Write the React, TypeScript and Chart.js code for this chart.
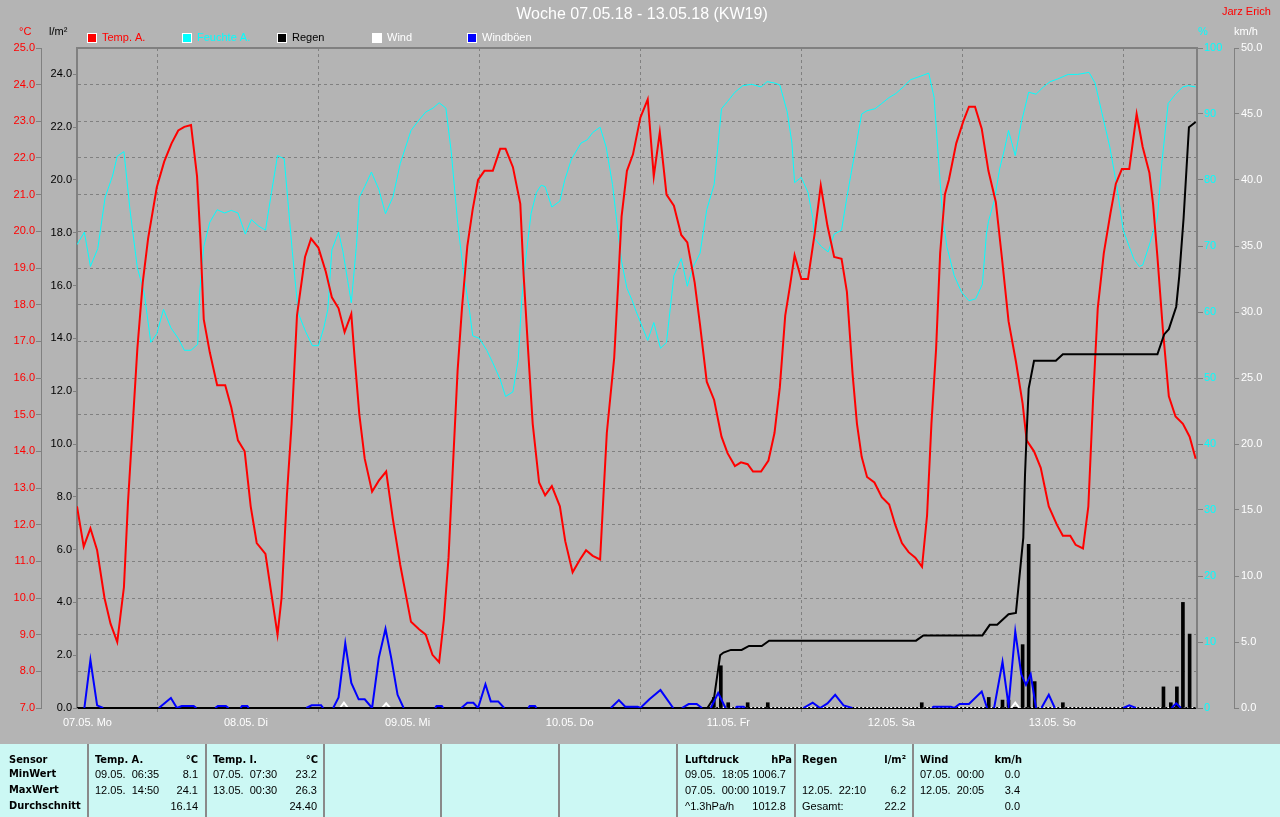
import React, { useEffect, useRef } from 'react';
import { Chart, registerables } from 'chart.js';

Chart.register(...registerables);

const FONT = '"Liberation Sans", Arial, sans-serif';
const GRID = '#808080';

// ---------- texts ----------
const chartTitle = 'Woche 07.05.18 - 13.05.18 (KW19)';
const author = 'Jarz Erich';

// ---------- axes / ticks ----------
const dayTicks = [0, 24, 48, 72, 96, 120, 144];
const dayLabels = ['07.05. Mo', '08.05. Di', '09.05. Mi', '10.05. Do', '11.05. Fr', '12.05. Sa', '13.05. So'];
const tempTicks = [7, 8, 9, 10, 11, 12, 13, 14, 15, 16, 17, 18, 19, 20, 21, 22, 23, 24, 25];
const rainTicks = [0, 2, 4, 6, 8, 10, 12, 14, 16, 18, 20, 22, 24];
const humTicks = [0, 10, 20, 30, 40, 50, 60, 70, 80, 90, 100];
const windTicks = [0, 5, 10, 15, 20, 25, 30, 35, 40, 45, 50];

// ---------- Temp. A. (°C), hours since 07.05. 00:00 ----------
const tempHours = [0, 1.0, 2.0, 3.0, 4.1, 5.0, 6.0, 7.0, 7.6, 8.4, 9.0, 9.8, 10.6, 11.9, 13.0, 14.1, 15.1, 16.0, 17.0, 17.9, 18.4, 18.9, 19.8, 20.9, 22.1, 23.0, 24.0, 25.0, 25.9, 26.8, 28.1, 29.0, 29.9, 30.5, 31.3, 32.0, 32.8, 34.0, 34.9, 36.0, 37.1, 38.0, 39.0, 39.9, 40.9, 41.4, 42.1, 42.9, 44.0, 45.0, 46.1, 47.1, 48.2, 49.8, 51.0, 52.0, 53.0, 54.0, 54.7, 55.4, 56.0, 56.75, 57.4, 58.2, 59.0, 59.8, 60.75, 62.0, 63.1, 63.9, 65.0, 66.1, 66.6, 67.25, 67.95, 68.9, 69.8, 70.8, 72.0, 72.8, 73.9, 75.0, 75.9, 76.9, 78.0, 78.5, 79.0, 80.1, 80.7, 81.2, 82.0, 82.9, 84.0, 85.1, 86.0, 86.9, 87.9, 89.0, 90.1, 91.0, 92.1, 92.9, 93.9, 95.0, 96.1, 97.0, 98.1, 99.0, 100.0, 100.8, 102.0, 103.1, 104.0, 104.8, 105.6, 106.3, 107.0, 108.0, 109.0, 110.0, 110.9, 111.9, 112.9, 114.0, 114.8, 115.65, 116.3, 117.0, 117.8, 118.9, 120.0, 121.1, 122.0, 123.0, 124.0, 125.0, 126.0, 126.75, 127.4, 128.1, 128.7, 129.4, 130.0, 131.1, 132.15, 133.0, 133.9, 134.9, 135.9, 137.0, 137.9, 138.9, 140.0, 141.0, 141.6, 142.7, 143.7, 144.9, 146.1, 147.0, 148.1, 148.9, 150.0, 150.8, 151.5, 152.2, 153.1, 154.1, 154.9, 155.8, 156.9, 158.0, 158.9, 159.9, 160.45, 161.1, 161.9, 162.8, 163.8, 164.9, 165.9, 166.8];
const tempValues = [12.5, 11.4, 11.9, 11.3, 10.0, 9.3, 8.8, 10.3, 12.6, 15.0, 16.8, 18.6, 19.8, 21.2, 21.9, 22.4, 22.75, 22.85, 22.9, 21.5, 19.8, 17.6, 16.7, 15.8, 15.8, 15.2, 14.3, 14.0, 12.5, 11.5, 11.2, 10.1, 9.0, 10.0, 12.8, 14.75, 17.7, 19.3, 19.8, 19.55, 18.9, 18.2, 17.9, 17.25, 17.75, 16.55, 15.0, 13.8, 12.9, 13.2, 13.45, 12.15, 10.9, 9.35, 9.15, 9.0, 8.45, 8.25, 9.4, 11.1, 13.4, 16.2, 17.9, 19.6, 20.6, 21.4, 21.65, 21.65, 22.25, 22.25, 21.75, 20.75, 18.8, 16.8, 14.75, 13.15, 12.8, 13.05, 12.5, 11.55, 10.7, 11.05, 11.3, 11.15, 11.05, 12.8, 14.5, 16.55, 18.6, 20.4, 21.65, 22.1, 23.1, 23.6, 21.5, 22.7, 21.0, 20.7, 19.9, 19.7, 18.6, 17.45, 15.9, 15.4, 14.4, 13.95, 13.6, 13.7, 13.65, 13.45, 13.45, 13.75, 14.5, 15.75, 17.7, 18.5, 19.35, 18.7, 18.7, 19.95, 21.25, 20.15, 19.3, 19.25, 18.35, 16.1, 14.75, 13.85, 13.3, 13.15, 12.75, 12.55, 12.0, 11.5, 11.25, 11.1, 10.85, 12.25, 14.75, 16.8, 19.4, 21.0, 21.4, 22.4, 23.0, 23.4, 23.4, 22.8, 21.65, 20.8, 19.3, 17.55, 16.45, 15.3, 14.3, 14.0, 13.55, 12.5, 12.0, 11.7, 11.7, 11.45, 11.35, 12.5, 15.4, 17.9, 19.4, 20.5, 21.3, 21.7, 21.7, 23.2, 22.3, 21.6, 20.75, 19.3, 17.35, 15.5, 14.95, 14.75, 14.4, 13.8];

// ---------- Feuchte A. (%) ----------
const humHours = [0, 1.1, 2.0, 3.1, 4.2, 5.3, 6.0, 7.0, 7.9, 9.0, 10.0, 11.0, 11.9, 12.9, 14.0, 15.1, 16.0, 17.0, 18.0, 18.3, 18.9, 19.8, 20.9, 22.0, 23.0, 24.0, 25.1, 26.0, 27.1, 28.1, 29.0, 29.9, 30.9, 31.4, 32.1, 33.0, 34.1, 35.1, 36.0, 36.8, 37.4, 38.0, 39.0, 39.65, 40.35, 40.9, 41.7, 42.1, 42.9, 43.9, 45.0, 46.0, 47.1, 48.2, 49.8, 51.0, 52.0, 53.1, 54.0, 55.0, 55.8, 56.75, 57.7, 58.5, 59.0, 60.0, 61.1, 62.0, 63.1, 63.9, 65.0, 65.8, 66.3, 66.9, 67.7, 68.5, 69.2, 69.8, 70.8, 72.0, 72.7, 73.7, 75.15, 76.1, 76.9, 78.0, 78.9, 79.85, 80.7, 81.2, 82.0, 82.8, 83.4, 85.1, 86.0, 87.0, 87.9, 89.0, 90.1, 91.0, 91.8, 92.9, 93.9, 95.0, 96.1, 97.0, 98.1, 99.3, 100.6, 102.0, 102.9, 104.0, 104.8, 105.9, 106.6, 107.0, 108.0, 109.0, 109.7, 110.0, 111.0, 112.0, 112.9, 114.0, 114.8, 115.9, 117.0, 117.8, 119.0, 120.0, 121.1, 122.1, 123.2, 124.3, 125.7, 127.0, 127.8, 128.5, 129.1, 129.7, 130.8, 131.9, 133.0, 134.0, 135.0, 135.6, 135.9, 136.75, 137.6, 138.3, 138.9, 139.9, 140.8, 141.9, 143.0, 144.1, 145.1, 146.2, 147.8, 149.2, 150.9, 151.8, 153.0, 154.0, 155.0, 156.0, 156.9, 157.6, 158.4, 158.9, 160.0, 161.1, 161.75, 162.7, 163.8, 164.9, 165.7, 166.8];
const humValues = [70.2, 72.1, 66.9, 69.6, 77.4, 80.6, 83.6, 84.3, 75.5, 66.7, 63.0, 55.4, 56.7, 60.4, 57.6, 56.0, 54.2, 54.2, 55.1, 63.0, 69.9, 73.6, 75.5, 75.0, 75.4, 75.0, 71.8, 74.0, 73.0, 72.4, 78.1, 83.7, 83.2, 77.4, 69.2, 59.8, 57.0, 54.9, 54.9, 57.6, 60.4, 69.4, 72.1, 69.2, 64.8, 61.4, 70.5, 77.4, 79.0, 81.2, 78.6, 74.9, 77.4, 82.5, 87.5, 89.1, 90.3, 90.9, 91.7, 90.9, 84.3, 73.6, 65.5, 60.4, 56.4, 56.0, 54.2, 52.3, 49.8, 47.2, 47.9, 52.9, 61.7, 68.0, 74.9, 78.1, 79.2, 79.0, 75.9, 76.8, 79.9, 83.1, 85.6, 86.1, 87.2, 88.0, 85.0, 79.3, 71.8, 67.7, 63.6, 61.7, 60.0, 55.7, 58.4, 54.5, 55.4, 65.5, 68.1, 63.9, 66.7, 68.9, 75.5, 79.3, 90.8, 91.9, 93.3, 94.3, 94.5, 94.1, 94.9, 94.7, 94.4, 90.3, 85.6, 79.6, 80.4, 78.1, 74.3, 71.1, 69.9, 69.1, 71.8, 72.4, 77.4, 83.7, 90.0, 90.5, 90.8, 91.6, 92.5, 93.1, 94.1, 95.2, 95.7, 96.2, 92.5, 82.5, 74.3, 69.9, 65.5, 63.0, 61.7, 62.0, 64.2, 71.8, 73.7, 76.8, 81.8, 84.7, 87.5, 83.7, 88.7, 93.3, 93.0, 94.1, 94.9, 95.3, 96.0, 96.0, 96.3, 94.7, 89.4, 85.0, 79.3, 72.4, 69.9, 68.0, 66.9, 67.1, 70.5, 74.3, 82.5, 91.6, 93.0, 94.1, 94.3, 94.1];

// ---------- Regen cumulative (l/m²) ----------
const rainCumHours = [0, 94.0, 95.0, 95.9, 96.4, 97.5, 99.1, 100.2, 102.1, 103.2, 125.1, 126.2, 135.0, 136.1, 137.2, 138.9, 140.0, 140.5, 141.1, 141.35, 141.6, 141.9, 142.7, 145.95, 147.0, 161.1, 162.1, 162.8, 163.9, 164.35, 165.0, 165.8, 166.8];
const rainCumValues = [0, 0, 0.4, 2.0, 2.1, 2.2, 2.2, 2.35, 2.35, 2.55, 2.55, 2.75, 2.75, 3.15, 3.15, 3.55, 3.6, 4.9, 6.45, 8.8, 10.4, 12.1, 13.15, 13.15, 13.4, 13.4, 14.15, 14.35, 15.2, 16.35, 18.55, 22.0, 22.2];

// ---------- Regen per interval (l/m²) ----------
const rainBarHours = [94.96, 96.0, 97.1, 100.0, 103.0, 125.96, 135.95, 138.0, 138.9, 141.0, 141.9, 142.8, 147.0, 162.0, 163.1, 164.0, 164.9, 165.9];
const rainBarValues = [0.4, 1.6, 0.2, 0.2, 0.2, 0.2, 0.4, 0.3, 0.3, 2.4, 6.2, 1.0, 0.2, 0.8, 0.2, 0.8, 4.0, 2.8];

// ---------- Wind (km/h) ----------
const windHours = [0, 39.2, 39.8, 40.4, 45.5, 46.1, 46.7, 139.3, 139.9, 140.5, 166.8];
const windValues = [0, 0, 0.4, 0, 0, 0.35, 0, 0, 0.4, 0, 0];

// ---------- Windböen (km/h) ----------
const gustHours = [0, 1.1, 2.0, 3.0, 3.9, 12.2, 14.0, 14.9, 15.6, 17.4, 17.8, 20.6, 21.0, 22.2, 22.6, 24.4, 24.6, 25.4, 25.6, 34.2, 35.0, 36.4, 36.7, 38.2, 39.0, 40.0, 40.9, 42.0, 42.9, 44.0, 45.0, 46.0, 46.85, 47.8, 48.7, 53.4, 53.6, 54.4, 54.6, 57.3, 58.2, 59.1, 59.8, 60.9, 61.7, 62.8, 63.7, 67.3, 67.5, 68.3, 68.5, 79.6, 80.8, 81.75, 83.6, 84.0, 85.35, 87.0, 88.9, 90.2, 91.2, 92.4, 93.2, 94.5, 95.6, 96.7, 98.2, 98.4, 99.4, 99.6, 108.3, 109.7, 110.8, 111.9, 113.05, 114.3, 115.6, 127.5, 127.7, 130.3, 130.8, 131.6, 133.0, 134.9, 135.7, 136.75, 138.0, 138.9, 139.9, 140.8, 141.5, 142.2, 143.0, 143.8, 144.9, 145.8, 156.0, 156.9, 157.9, 163.2, 163.9, 164.6, 166.8];
const gustValues = [0, 0, 3.65, 0.2, 0, 0, 0.75, 0, 0.15, 0.15, 0, 0, 0.15, 0.15, 0, 0, 0.15, 0.15, 0, 0, 0.2, 0.2, 0, 0, 0.8, 4.9, 1.9, 0.66, 0.66, 0, 3.8, 6.0, 3.8, 1.0, 0, 0, 0.15, 0.15, 0, 0, 0.4, 0.4, 0, 1.8, 0.5, 0.5, 0, 0, 0.15, 0.15, 0, 0, 0.6, 0.1, 0.1, 0, 0.66, 1.36, 0, 0, 0.3, 0.3, 0, 0, 1.13, 0, 0, 0.1, 0.1, 0, 0, 0.4, 0, 0.35, 1.0, 0.2, 0, 0, 0.1, 0.1, 0, 0.3, 0.3, 1.25, 0, 0, 3.5, 0.2, 5.8, 2.55, 1.75, 2.55, 0, 0, 1.0, 0, 0, 0.2, 0, 0, 0.35, 0, 0];

// ---------- statistics table ----------
const sensorLabels = ['Sensor', 'MinWert', 'MaxWert', 'Durchschnitt'];
const statColumns = [
  { head: ['Temp. A.', '°C'], rows: [['09.05.  06:35', '8.1'], ['12.05.  14:50', '24.1'], ['', '16.14']], x: 95, rx: 198, hrx: 198 },
  { head: ['Temp. I.', '°C'], rows: [['07.05.  07:30', '23.2'], ['13.05.  00:30', '26.3'], ['', '24.40']], x: 213, rx: 317, hrx: 318 },
  { head: ['Luftdruck', 'hPa'], rows: [['09.05.  18:05', '1006.7'], ['07.05.  00:00', '1019.7'], ['^1.3hPa/h', '1012.8']], x: 685, rx: 786, hrx: 792 },
  { head: ['Regen', 'l/m²'], rows: [['', ''], ['12.05.  22:10', '6.2'], ['Gesamt:', '22.2']], x: 802, rx: 906, hrx: 906 },
  { head: ['Wind', 'km/h'], rows: [['07.05.  00:00', '0.0'], ['12.05.  20:05', '3.4'], ['', '0.0']], x: 920, rx: 1020, hrx: 1022 },
];
const separatorX = [88, 206, 324, 441, 559, 677, 795, 913];
const rowTops = [753, 767, 783, 799];

const pairs = (xs: number[], ys: number[]) => xs.map((x, i) => ({ x, y: ys[i] }));
const bothZero = (c: any) => c.p0.parsed.y === 0 && c.p1.parsed.y === 0;

const legendItems = [
  { label: 'Temp. A.', box: '#FF0000', text: '#FF0000' },
  { label: 'Feuchte A.', box: '#00FFFF', text: '#00FFFF' },
  { label: 'Regen', box: '#000000', text: '#000000' },
  { label: 'Wind', box: '#FFFFFF', text: '#FFFFFF' },
  { label: 'Windböen', box: '#0000FF', text: '#FFFFFF' },
];

const overlayPlugin = {
  id: 'overlay',
  afterDraw(chart: any) {
    const { ctx, chartArea } = chart;
    ctx.save();
    ctx.strokeStyle = GRID;
    ctx.lineWidth = 2;
    ctx.beginPath();
    ctx.moveTo(chartArea.left - 1, chartArea.top);
    ctx.lineTo(chartArea.right + 1, chartArea.top);
    ctx.stroke();

    ctx.textBaseline = 'middle';
    ctx.textAlign = 'center';
    ctx.font = `16px ${FONT}`;
    ctx.fillStyle = '#FFFFFF';
    ctx.fillText(chartTitle, 642, 15);

    ctx.textAlign = 'left';
    ctx.font = `11px ${FONT}`;
    ctx.fillStyle = '#FF0000';
    ctx.fillText(author, 1222, 12);
    ctx.fillText('°C', 19, 32);
    ctx.fillStyle = '#000000';
    ctx.fillText('l/m²', 49, 32);
    ctx.fillStyle = '#00FFFF';
    ctx.fillText('%', 1198, 32);
    ctx.fillStyle = '#FFFFFF';
    ctx.fillText('km/h', 1234, 32);

    legendItems.forEach((it, i) => {
      const bx = 87 + i * 95;
      ctx.fillStyle = '#FFFFFF';
      ctx.fillRect(bx, 33, 10, 10);
      ctx.fillStyle = it.box;
      ctx.fillRect(bx + 1, 34, 8, 8);
      ctx.fillStyle = it.text;
      ctx.fillText(it.label, bx + 15, 38);
    });
    ctx.restore();
  },
};

function StatsTable() {
  const bold: React.CSSProperties = {
    fontFamily: '"DejaVu Sans Condensed", "DejaVu Sans", sans-serif',
    fontStretch: 'condensed',
    fontWeight: 'bold',
    fontSize: 11,
  };
  const normal: React.CSSProperties = { fontFamily: FONT, fontSize: 11 };
  const cell = (key: string, text: string, top: number, x: number, right: boolean, style: React.CSSProperties) => (
    <div
      key={key}
      style={{
        position: 'absolute',
        top,
        left: right ? x - 120 : x,
        width: 120,
        textAlign: right ? 'right' : 'left',
        lineHeight: '14px',
        height: 14,
        whiteSpace: 'pre',
        color: '#000000',
        ...style,
      }}
    >
      {text}
    </div>
  );
  const items: React.ReactNode[] = [];
  sensorLabels.forEach((t, r) => items.push(cell(`s${r}`, t, rowTops[r], 9, false, bold)));
  statColumns.forEach((col, c) => {
    items.push(cell(`h${c}a`, col.head[0], rowTops[0], col.x, false, bold));
    items.push(cell(`h${c}b`, col.head[1], rowTops[0], col.hrx, true, bold));
    col.rows.forEach((row, r) => {
      items.push(cell(`r${c}${r}a`, row[0], rowTops[r + 1], col.x, false, normal));
      items.push(cell(`r${c}${r}b`, row[1], rowTops[r + 1], col.rx, true, normal));
    });
  });
  return (
    <div style={{ position: 'absolute', left: 0, top: 744, width: 1280, height: 73, background: '#CCF8F4' }}>
      {separatorX.map((x) => (
        <div key={x} style={{ position: 'absolute', left: x - 1, top: 0, width: 2, height: 73, background: '#8A8A8A' }} />
      ))}
      <div style={{ position: 'absolute', left: 0, top: -744, width: 1280, height: 817 }}>{items}</div>
    </div>
  );
}

export default function App() {
  const ref = useRef<HTMLCanvasElement>(null);

  useEffect(() => {
    const canvas = ref.current;
    if (!canvas) return;
    Chart.defaults.font.family = FONT;
    Chart.defaults.font.size = 11;

    const chart = new Chart(canvas, {
      type: 'line',
      data: {
        datasets: [
          {
            type: 'line',
            label: 'Windböen',
            data: pairs(gustHours, gustValues),
            xAxisID: 'x',
            yAxisID: 'yWind',
            borderColor: '#0000FF',
            borderWidth: 2,
            pointRadius: 0,
            tension: 0,
            segment: { borderColor: (c: any) => (bothZero(c) ? 'rgba(0,0,0,0)' : undefined) },
            order: 1,
          } as any,
          {
            type: 'bar',
            label: 'Regen Intervall',
            data: pairs(rainBarHours, rainBarValues),
            xAxisID: 'x',
            yAxisID: 'yRain',
            backgroundColor: '#000000',
            barThickness: 3,
            order: 2,
          } as any,
          {
            type: 'line',
            label: 'Regen',
            data: pairs(rainCumHours, rainCumValues),
            xAxisID: 'x',
            yAxisID: 'yRain',
            borderColor: '#000000',
            borderWidth: 2,
            pointRadius: 0,
            tension: 0,
            order: 3,
          } as any,
          {
            type: 'line',
            label: 'Temp. A.',
            data: pairs(tempHours, tempValues),
            xAxisID: 'x',
            yAxisID: 'yTemp',
            borderColor: '#FF0000',
            borderWidth: 2,
            pointRadius: 0,
            tension: 0,
            order: 4,
          } as any,
          {
            type: 'line',
            label: 'Wind',
            data: pairs(windHours, windValues),
            xAxisID: 'x',
            yAxisID: 'yWind',
            borderColor: '#FFFFFF',
            borderWidth: 2,
            pointRadius: 0,
            tension: 0,
            segment: { borderDash: (c: any) => (bothZero(c) ? [2, 2] : undefined) },
            order: 5,
          } as any,
          {
            type: 'line',
            label: 'Feuchte A.',
            data: pairs(humHours, humValues),
            xAxisID: 'x',
            yAxisID: 'yHum',
            borderColor: '#00FFFF',
            borderWidth: 1,
            pointRadius: 0,
            tension: 0,
            order: 6,
          } as any,
        ],
      },
      options: {
        responsive: false,
        maintainAspectRatio: false,
        animation: false,
        devicePixelRatio: 1,
        events: [],
        layout: { padding: { top: 48, left: 0, right: 0, bottom: 0 } },
        plugins: {
          legend: { display: false },
          tooltip: { enabled: false },
          title: { display: false },
        },
        scales: {
          x: {
            type: 'linear',
            position: 'bottom',
            min: 0,
            max: 167,
            offset: false,
            afterBuildTicks: (s: any) => {
              s.ticks = dayTicks.map((v) => ({ value: v }));
            },
            afterFit: (s: any) => {
              s.height = 35;
            },
            ticks: {
              autoSkip: false,
              maxRotation: 0,
              minRotation: 0,
              align: 'start',
              labelOffset: -14,
              padding: 4,
              color: '#FFFFFF',
              font: { family: FONT, size: 11 },
              callback: (v: any) => dayLabels[dayTicks.indexOf(Number(v))],
            },
            grid: {
              color: GRID,
              lineWidth: 1,
              drawOnChartArea: true,
              drawTicks: true,
              tickLength: 4,
              tickColor: GRID,
              tickBorderDash: [],
            },
            border: { display: true, color: '#000000', width: 2, dash: [3, 3] },
          },
          yTemp: {
            type: 'linear',
            position: 'left',
            weight: 10,
            min: 7,
            max: 25,
            afterBuildTicks: (s: any) => {
              s.ticks = tempTicks.map((v) => ({ value: v }));
            },
            afterFit: (s: any) => {
              s.width = 41;
            },
            ticks: {
              color: '#FF0000',
              padding: 1,
              font: { family: FONT, size: 11 },
              callback: (v: any) => Number(v).toFixed(1),
            },
            grid: {
              color: GRID,
              lineWidth: 1,
              drawOnChartArea: true,
              drawTicks: true,
              tickLength: 5,
              tickColor: GRID,
              tickBorderDash: [],
            },
            border: { display: true, color: GRID, width: 1, dash: [3, 3] },
          },
          yRain: {
            type: 'linear',
            position: 'left',
            weight: 0,
            min: 0,
            max: 25,
            afterBuildTicks: (s: any) => {
              s.ticks = rainTicks.map((v) => ({ value: v }));
            },
            afterFit: (s: any) => {
              s.width = 36;
            },
            ticks: {
              color: '#000000',
              padding: 1,
              font: { family: FONT, size: 11 },
              callback: (v: any) => Number(v).toFixed(1),
            },
            grid: {
              drawOnChartArea: false,
              drawTicks: true,
              tickLength: 4,
              tickColor: GRID,
            },
            border: { display: true, color: GRID, width: 2 },
          },
          yHum: {
            type: 'linear',
            position: 'right',
            weight: 0,
            min: 0,
            max: 100,
            afterBuildTicks: (s: any) => {
              s.ticks = humTicks.map((v) => ({ value: v }));
            },
            afterFit: (s: any) => {
              s.width = 37;
            },
            ticks: {
              color: '#00FFFF',
              padding: 1,
              font: { family: FONT, size: 11 },
              callback: (v: any) => String(v),
            },
            grid: {
              drawOnChartArea: false,
              drawTicks: true,
              tickLength: 6,
              tickColor: GRID,
            },
            border: { display: true, color: GRID, width: 2 },
          },
          yWind: {
            type: 'linear',
            position: 'right',
            weight: 10,
            min: 0,
            max: 50,
            afterBuildTicks: (s: any) => {
              s.ticks = windTicks.map((v) => ({ value: v }));
            },
            afterFit: (s: any) => {
              s.width = 46;
            },
            ticks: {
              color: '#FFFFFF',
              padding: 2,
              font: { family: FONT, size: 11 },
              callback: (v: any) => Number(v).toFixed(1),
            },
            grid: {
              drawOnChartArea: false,
              drawTicks: true,
              tickLength: 5,
              tickColor: GRID,
            },
            border: { display: true, color: GRID, width: 1 },
          },
        },
      } as any,
      plugins: [overlayPlugin],
    });

    return () => chart.destroy();
  }, []);

  return (
    <div
      style={{
        position: 'absolute',
        left: 0,
        top: 0,
        width: 1280,
        height: 817,
        background: '#B4B4B4',
        overflow: 'hidden',
      }}
    >
      <canvas ref={ref} width={1280} height={743} style={{ display: 'block', width: 1280, height: 743 }} />
      <StatsTable />
    </div>
  );
}
